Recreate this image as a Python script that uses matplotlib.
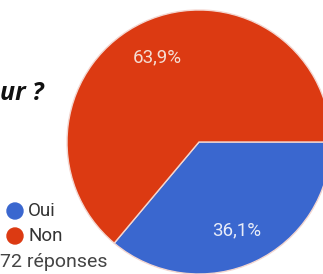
import matplotlib
matplotlib.use("Agg")
import matplotlib.pyplot as plt
from matplotlib.patches import Circle

labels = ["Oui", "Non"]
values = [36.1, 63.9]
pct_labels = ["36,1%", "63,9%"]
colors = ["#3a67cf", "#dc3a12"]
title_text = "ur ?"
total_text = "72 réponses"

W, H = 323, 274
fig = plt.figure(figsize=(W / 100, H / 100), dpi=100)
ax = fig.add_axes([0, 0, 1, 1])
ax.set_xlim(0, W)
ax.set_ylim(0, H)
ax.set_aspect("equal")
ax.axis("off")

cx, cy, r = 199, H - 142, 132
wedges, _ = ax.pie(values, colors=colors, startangle=0, counterclock=False,
                   center=(cx, cy), radius=r, frame=True,
                   wedgeprops=dict(edgecolor="#f3d6d0", linewidth=1.0))
ax.set_xlim(0, W)
ax.set_ylim(0, H)
ax.axis("off")

ax.text(237, H - 230, pct_labels[0], color="#e8ecf8", fontsize=13.5,
        ha="center", va="center", family="Roboto")
ax.text(157, H - 57, pct_labels[1], color="#f5ddd3", fontsize=13.5,
        ha="center", va="center", family="Roboto")

ax.text(0, H - 93, title_text, fontsize=18, fontweight="bold", style="italic",
        ha="left", va="center", color="#111111", family="Open Sans")

for i, (lab, col) in enumerate(zip(labels, colors)):
    y = H - (211 + 25 * i)
    ax.add_patch(Circle((15, y), 8, color=col))
    ax.text(28, y, lab, fontsize=13.5, ha="left", va="center", color="#333333",
            family="Roboto")
ax.text(0, H - 262, total_text, fontsize=14, ha="left", va="center",
        color="#444444", family="Roboto")

fig.savefig("out.png", dpi=100)
